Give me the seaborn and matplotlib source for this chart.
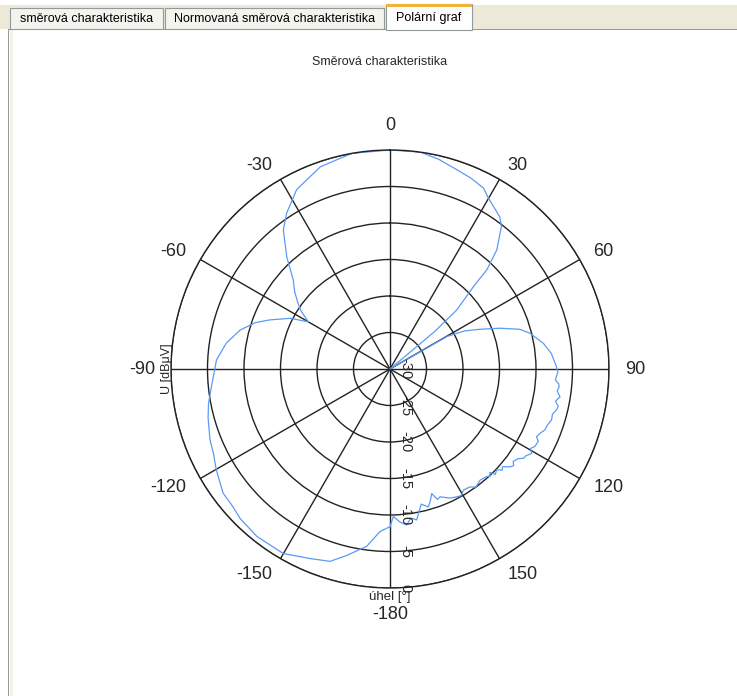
import numpy as np
import matplotlib
matplotlib.use('Agg')
import matplotlib.pyplot as plt
import matplotlib.transforms as mtransforms
from matplotlib.patches import Rectangle
import seaborn as sns

# measured direction pattern: angle [deg, clockwise from top] and level [dB]
angles = [-180, -176.5, -172.5, -167, -162.7, -157, -154.4, -150, -141.5, -135,
          -131, -126.7, -120, -115.5, -111.5, -105, -100.7, -95, -87, -81,
          -75.4, -71, -67.8, -63, -60, -57, -54.4, -51, -47.4, -42.6,
          -37.5, -33.6, -27.5, -19, -10, 0, 8, 13, 18.5, 23,
          27.3, 30, 35.8, 38, 41.9, 44.3, 45.4, 47, 48.5, 50,
          51, 58, 60.3, 63, 66.2, 69.7, 73, 75.7, 80.5, 84.5,
          89.2, 91, 93.8, 95, 96, 97.5, 99.3, 101, 102.5, 103.8,
          105.5, 107.5, 109.5, 111.5, 113, 114.8, 116, 118.2, 119.5, 120.8,
          122.5, 123.8, 125, 126.9, 128, 129.2, 131, 132, 133.4, 135,
          136, 137, 138.1, 141, 144, 146, 148.8, 150.5, 152, 155.1,
          158.6, 160, 161.5, 163, 164.5, 167, 170, 172, 173.9, 176.3,
          178.7, 180]
level_db = [-8.4, -7.7, -5.5, -3.8, -2.4, -1.8, -1.5, -0.8, -0.7, -1.0,
            -1.4, -1.5, -2.5, -3.2, -3.5, -4.2, -4.7, -5.5, -6.2, -7.3,
            -8.8, -10.5, -12.2, -14.7, -17.1, -15.5, -14.5, -13.2, -12.0, -9.1,
            -6.0, -4.4, -2.3, -0.7, 0.0, 0.0, 0.0, -0.5, -1.2, -1.6,
            -2.1, -3.0, -4.3, -5.2, -8.1, -11.0, -14.0, -16.2, -17.8, -22.0,
            -30.0, -30.0, -21.0, -18.5, -16.5, -13.9, -11.4, -10.2, -8.7, -7.8,
            -7.2, -7.0, -7.3, -6.8, -6.7, -6.9, -6.4, -6.9, -6.4, -6.5,
            -6.9, -6.8, -7.1, -7.2, -7.6, -7.9, -7.4, -7.5, -7.9, -7.4,
            -7.9, -8.0, -8.6, -8.9, -8.5, -8.8, -9.6, -9.3, -9.9, -9.6,
            -10.3, -9.9, -10.2, -10.4, -10.0, -10.5, -10.6, -10.1, -10.2, -10.5,
            -11.2, -11.0, -12.0, -11.1, -10.4, -11.0, -9.0, -9.4, -8.5, -9.0,
            -9.8, -8.4]

theta_ticks = [0, 30, 60, 90, 120, 150, 180, 210, 240, 270, 300, 330]
theta_labels = ['0', '30', '60', '90', '120', '150', '-180', '-150', '-120', '-90', '-60', '-30']
r_ticks = [-30, -25, -20, -15, -10, -5, 0]
r_labels = ['-30', '-25', '-20', '-15', '-10', '-5', '0']
tab_titles = ['směrová charakteristika', 'Normovaná směrová charakteristika', 'Polární graf']
chart_title = 'Směrová charakteristika'
x_label = 'úhel [°]'
y_label = 'U [dBμV]'

sns.set_style('white')
plt.rcParams['font.family'] = ['Liberation Sans', 'DejaVu Sans']

W, H = 737, 696
fig = plt.figure(figsize=(W / 100, H / 100), dpi=100)
fig.patch.set_facecolor('white')


def box(x0, y0, x1, y1, **kw):
    # rectangle given in pixel coords measured from the top-left corner
    fig.add_artist(Rectangle((x0 / W, 1 - y1 / H), (x1 - x0) / W, (y1 - y0) / H,
                             transform=fig.transFigure, **kw))


# window chrome: tab strip and panel border
box(0, 5, W, 29, facecolor='#ECE9D8', edgecolor='none')
box(8, 29, W, 30, facecolor='#919B9C', edgecolor='none')
box(8, 29, 9, H, facecolor='#919B9C', edgecolor='none')
box(10, 30, 13, H, facecolor='#F3F1E8', edgecolor='none')
tab_boxes = [(10, 8, 163, 29), (165, 8, 384, 29), (386, 4, 472, 30)]
for i, (title, (x0, y0, x1, y1)) in enumerate(zip(tab_titles, tab_boxes)):
    selected = i == 2
    box(x0, y0, x1, y1, facecolor='white' if selected else '#F4F3EE',
        edgecolor='#919B9C', lw=0.8)
    if selected:
        box(x0, y0, x1, y0 + 2.5, facecolor='#F2B33D', edgecolor='none')
    fig.text((x0 + x1) / 2 / W, 1 - ((y0 + y1) / 2 + 1) / H, title,
             ha='center', va='center', fontsize=9, color='black')

ax = fig.add_axes([171 / W, 1 - 588 / H, 438 / W, 438 / H], projection='polar')
sns.lineplot(x=np.deg2rad(angles), y=level_db, ax=ax, sort=False, estimator=None,
             color='#5A9BF5', lw=0.9)

ax.set_theta_zero_location('N')
ax.set_theta_direction(-1)
ax.set_ylim(-30, 0)
ax.set_xticks(np.deg2rad(theta_ticks))
ax.set_xticklabels([])
ax.set_yticks(r_ticks[1:])
ax.set_yticklabels([])
ax.tick_params(axis='both', size=0)
ax.grid(True, color='#222222', lw=1.0)
ax.spines['polar'].set_color('#222222')
ax.spines['polar'].set_linewidth(1.0)

# angle labels: anchored just outside the rim, aligned away from the centre
for t, lab in zip(theta_ticks, theta_labels):
    s, c = np.sin(np.deg2rad(t)), np.cos(np.deg2rad(t))
    ha = 'left' if s > 0.01 else ('right' if s < -0.01 else 'center')
    if abs(s) > 0.01:
        va = 'center'
    else:
        va = 'bottom' if c > 0 else 'top'
    dy = 16 * c if c > 0 else 18 * c
    off = mtransforms.ScaledTranslation(16 * s / 100, dy / 100, fig.dpi_scale_trans)
    ax.text(np.deg2rad(t), 0, lab, transform=ax.transData + off,
            ha=ha, va=va, fontsize=13)

# radial labels along the -180 spoke, rotated
shift = mtransforms.ScaledTranslation(15 / 100, 0, fig.dpi_scale_trans)
for r, lab in zip(r_ticks, r_labels):
    ax.text(np.pi, r, lab, transform=ax.transData + shift, rotation=-90,
            ha='center', va='center', fontsize=10.5, rotation_mode='anchor')

ax.set_xlabel(x_label, fontsize=9.5, va='center')
ax.xaxis.set_label_coords(0.5, -0.02)
ax.set_ylabel(y_label, fontsize=9, va='center')
ax.yaxis.set_label_coords(-0.01, 0.5)
ax.set_title(chart_title, x=0.477, y=1.194, pad=0, fontsize=9)

fig.savefig('out.png', dpi=100)
